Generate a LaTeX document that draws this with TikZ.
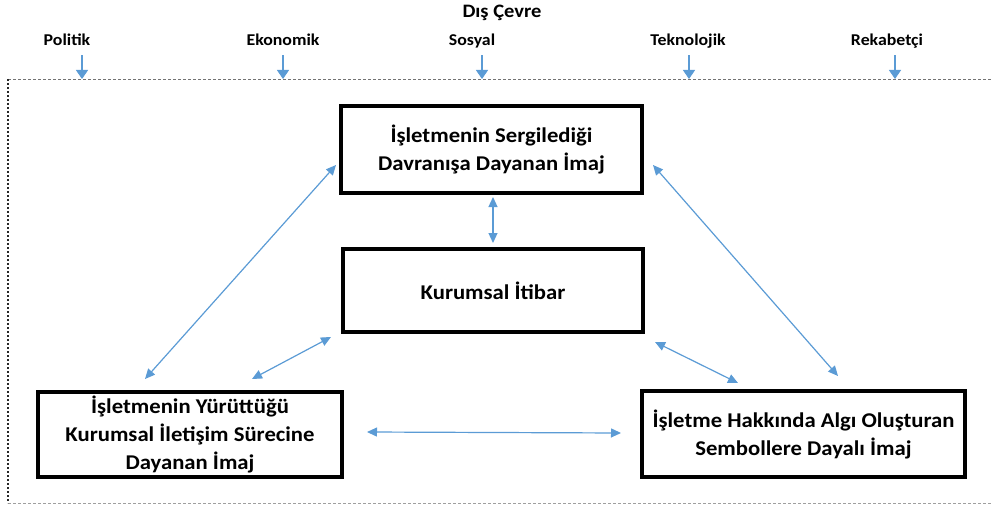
\documentclass[tikz,border=0pt]{standalone}
\usepackage{fontspec}
\setmainfont{Carlito}[FakeStretch=1.08]
\usetikzlibrary{arrows.meta}
\definecolor{linkblue}{HTML}{5B9BD5}
\begin{document}
\begin{tikzpicture}[x=1pt,y=-1pt,
  box/.style={draw=black, line width=3.5pt, outer sep=0pt, inner sep=2pt, align=center,
    font=\fontsize{21}{28}\selectfont\bfseries, fill=white},
  factor/.style={anchor=base, inner sep=2pt, text height=11pt, text depth=3pt,
    font=\fontsize{16.5}{20}\selectfont\bfseries},
  link/.style={draw=linkblue, line width=1.2pt,
    {Triangle[length=10pt,width=9pt]}-{Triangle[length=10pt,width=9pt]}},
  influence/.style={draw=linkblue, line width=1.3pt, -{Triangle[length=9pt,width=12pt]}}
]
\useasboundingbox (0,0) rectangle (991,508);

% outer environment frame
\draw[black!55, line width=0.9pt, dash pattern=on 3pt off 2pt] (8,79) -- (991,79);
\draw[gray!75, line width=0.9pt, dash pattern=on 3pt off 2pt] (8,503) -- (991,503);
\draw[black!85, line width=1.2pt, dash pattern=on 2pt off 2pt] (8,79) -- (8,503);

% environment title and factors
\node[factor, font=\fontsize{19}{22}\selectfont\bfseries] (env) at (502,18) {Dış Çevre};
\node[factor] (pol) at (67,45.5) {Politik};
\node[factor] (eko) at (283,45.5) {Ekonomik};
\node[factor] (sos) at (472,45.5) {Sosyal};
\node[factor] (tek) at (688,45.5) {Teknolojik};
\node[factor] (rek) at (887,45.5) {Rekabetçi};

\coordinate (a1) at (82,79);
\coordinate (a2) at (283,79);
\coordinate (a3) at (482,79);
\coordinate (a4) at (689,79);
\coordinate (a5) at (895,79);
\draw[influence, shorten <=4.5pt] (pol.south -| a1) -- (a1);
\draw[influence, shorten <=4.5pt] (eko.south -| a2) -- (a2);
\draw[influence, shorten <=4.5pt] (sos.south -| a3) -- (a3);
\draw[influence, shorten <=4.5pt] (tek.south -| a4) -- (a4);
\draw[influence, shorten <=4.5pt] (rek.south -| a5) -- (a5);

% image components and reputation
\node[box, minimum width=301pt, minimum height=87pt] (T) at (491.5,149.5)
  {İşletmenin Sergilediği\\Davranışa Dayanan İmaj};
\node[box, minimum width=300pt, minimum height=83pt] (M) at (493,290.5)
  {Kurumsal İtibar};
\node[box, minimum width=304pt, minimum height=85pt] (L) at (190,434.5)
  {İşletmenin Yürüttüğü\\Kurumsal İletişim Sürecine\\Dayanan İmaj};
\node[box, minimum width=323pt, minimum height=86pt] (R) at (803.5,434)
  {İşletme Hakkında Algı Oluşturan\\Sembollere Dayalı İmaj};

% mutual relations
\draw[link] ([shift={(1.5,4)}]T.south) -- ([shift={(0,-6)}]M.north);
\draw[link] ([shift={(107,-13)}]L.north west) -- ([shift={(-5,15.5)}]T.west);
\draw[link] ([shift={(214,-13)}]L.north west) -- ([shift={(-12,5)}]M.south west);
\draw[link] ([shift={(11,15.5)}]T.east) -- ([shift={(196,-15)}]R.north west);
\draw[link] ([shift={(12,10)}]M.south east) -- ([shift={(96,-8)}]R.north west);
\draw[link] ([shift={(25,-2.5)}]L.east) -- ([shift={(-21,-1)}]R.west);
\end{tikzpicture}
\end{document}
